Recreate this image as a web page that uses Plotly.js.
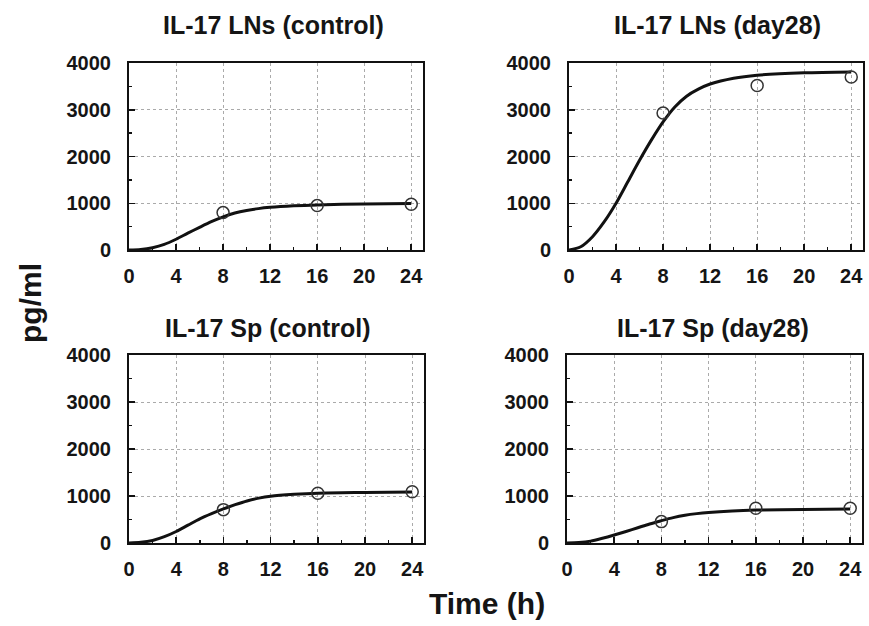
<!DOCTYPE html>
<html><head><meta charset="utf-8">
<script src="https://cdn.plot.ly/plotly-3.0.1.min.js"></script>
<style>html,body{margin:0;padding:0;background:#fff;}#plot{width:869px;height:626px;}</style>
</head><body><div id="plot"></div>
<script>
// Panel titles
const titles = ["IL-17 LNs (control)", "IL-17 LNs (day28)", "IL-17 Sp (control)", "IL-17 Sp (day28)"];
// Measured time points (h)
const obsTime = [8, 16, 24];
const obsLNsControl = [800, 950, 980];
const obsLNsDay28 = [2930, 3520, 3700];
const obsSpControl = [710, 1060, 1090];
const obsSpDay28 = [455, 740, 740];
// Fitted curves
const fitTime = [0, 1, 2, 3, 4, 5, 6, 7, 8, 9, 10, 11, 12, 14, 16, 20, 24];
const fitLNsControl = [0, 12, 50, 120, 230, 360, 485, 605, 710, 790, 845, 885, 912, 945, 965, 985, 995];
const fitLNsDay28 = [0, 70, 285, 605, 1000, 1460, 1920, 2350, 2740, 3060, 3290, 3440, 3550, 3675, 3740, 3790, 3810];
const fitSpControl = [0, 15, 55, 135, 245, 380, 515, 625, 725, 815, 895, 955, 995, 1035, 1060, 1075, 1085];
const fitSpDay28 = [0, 10, 40, 100, 170, 245, 325, 405, 475, 540, 590, 625, 650, 682, 700, 715, 725];
const xTicks = [0, 4, 8, 12, 16, 20, 24];
const yTicks = [0, 1000, 2000, 3000, 4000];

const fits = [fitLNsControl, fitLNsDay28, fitSpControl, fitSpDay28];
const obs = [obsLNsControl, obsLNsDay28, obsSpControl, obsSpDay28];

const W = 869, H = 626;
const boxes = [
  {l:129, r:423, t:63, b:250},
  {l:569, r:863, t:63, b:250},
  {l:129, r:424, t:355, b:543},
  {l:567, r:862, t:355, b:543}
];
const titlePos = [[273, 25], [717, 25], [268, 328], [713, 328]];
const FF = 'Liberation Sans, Arial, sans-serif';

const traces = [];
const layout = {
  width: W, height: H,
  margin: {l:0, r:0, t:0, b:0},
  paper_bgcolor: '#fff', plot_bgcolor: '#fff',
  showlegend: false,
  font: {family: FF, color: '#111'},
  annotations: []
};
const tickFont = {family: FF, size: 20, color: '#151515', weight: 'bold'};

for (let i = 0; i < 4; i++) {
  const sfx = i === 0 ? '' : String(i + 1);
  const xa = 'x' + sfx, ya = 'y' + sfx;
  traces.push({x: fitTime, y: fits[i], xaxis: xa, yaxis: ya, mode: 'lines',
    line: {color: '#111', width: 3, shape: 'spline', smoothing: 0.8}, hoverinfo: 'skip'});
  traces.push({x: obsTime, y: obs[i], xaxis: xa, yaxis: ya, mode: 'markers',
    marker: {symbol: 'circle-open', size: 12, color: '#333', line: {width: 1.5, color: '#333'}}});
  const b = boxes[i];
  layout['xaxis' + sfx] = {
    domain: [b.l / W, b.r / W], anchor: ya, range: [0, 25],
    tickvals: xTicks, ticktext: xTicks.map(String),
    ticks: 'inside', ticklen: 6, tickwidth: 1.5, tickcolor: '#111',
    showline: true, mirror: true, linecolor: '#111', linewidth: 2,
    showgrid: true, gridcolor: '#aaa', griddash: 'dot', gridwidth: 1,
    zeroline: false, tickfont: tickFont, ticklabelstandoff: 7,
    minor: {dtick: 2, tick0: 0, ticks: 'inside', ticklen: 3, tickwidth: 1.5, tickcolor: '#111', showgrid: false},
    fixedrange: true
  };
  layout['yaxis' + sfx] = {
    domain: [1 - b.b / H, 1 - b.t / H], anchor: xa, range: [0, 4000],
    tickvals: yTicks, ticktext: yTicks.map(String),
    ticks: 'inside', ticklen: 6, tickwidth: 1.5, tickcolor: '#111',
    showline: true, mirror: true, linecolor: '#111', linewidth: 2,
    showgrid: true, gridcolor: '#aaa', griddash: 'dot', gridwidth: 1,
    zeroline: false, tickfont: tickFont, ticklabelstandoff: 12,
    minor: {dtick: 500, tick0: 0, ticks: 'inside', ticklen: 3, tickwidth: 1.5, tickcolor: '#111', showgrid: false},
    fixedrange: true
  };
  layout.annotations.push({
    text: titles[i], xref: 'paper', yref: 'paper',
    x: titlePos[i][0] / W, y: 1 - titlePos[i][1] / H,
    xanchor: 'center', yanchor: 'middle', showarrow: false,
    font: {family: FF, size: 25, color: '#151515', weight: 'bold'}
  });
}
layout.annotations.push({
  text: 'pg/ml', xref: 'paper', yref: 'paper', x: 30 / W, y: 1 - 303 / H,
  xanchor: 'center', yanchor: 'middle', showarrow: false, textangle: -90,
  font: {family: FF, size: 30, color: '#151515', weight: 'bold'}
});
layout.annotations.push({
  text: 'Time (h)', xref: 'paper', yref: 'paper', x: 487 / W, y: 1 - 603 / H,
  xanchor: 'center', yanchor: 'middle', showarrow: false,
  font: {family: FF, size: 30, color: '#151515', weight: 'bold'}
});

Plotly.newPlot('plot', traces, layout, {staticPlot: true, displayModeBar: false});
</script>
</body></html>
